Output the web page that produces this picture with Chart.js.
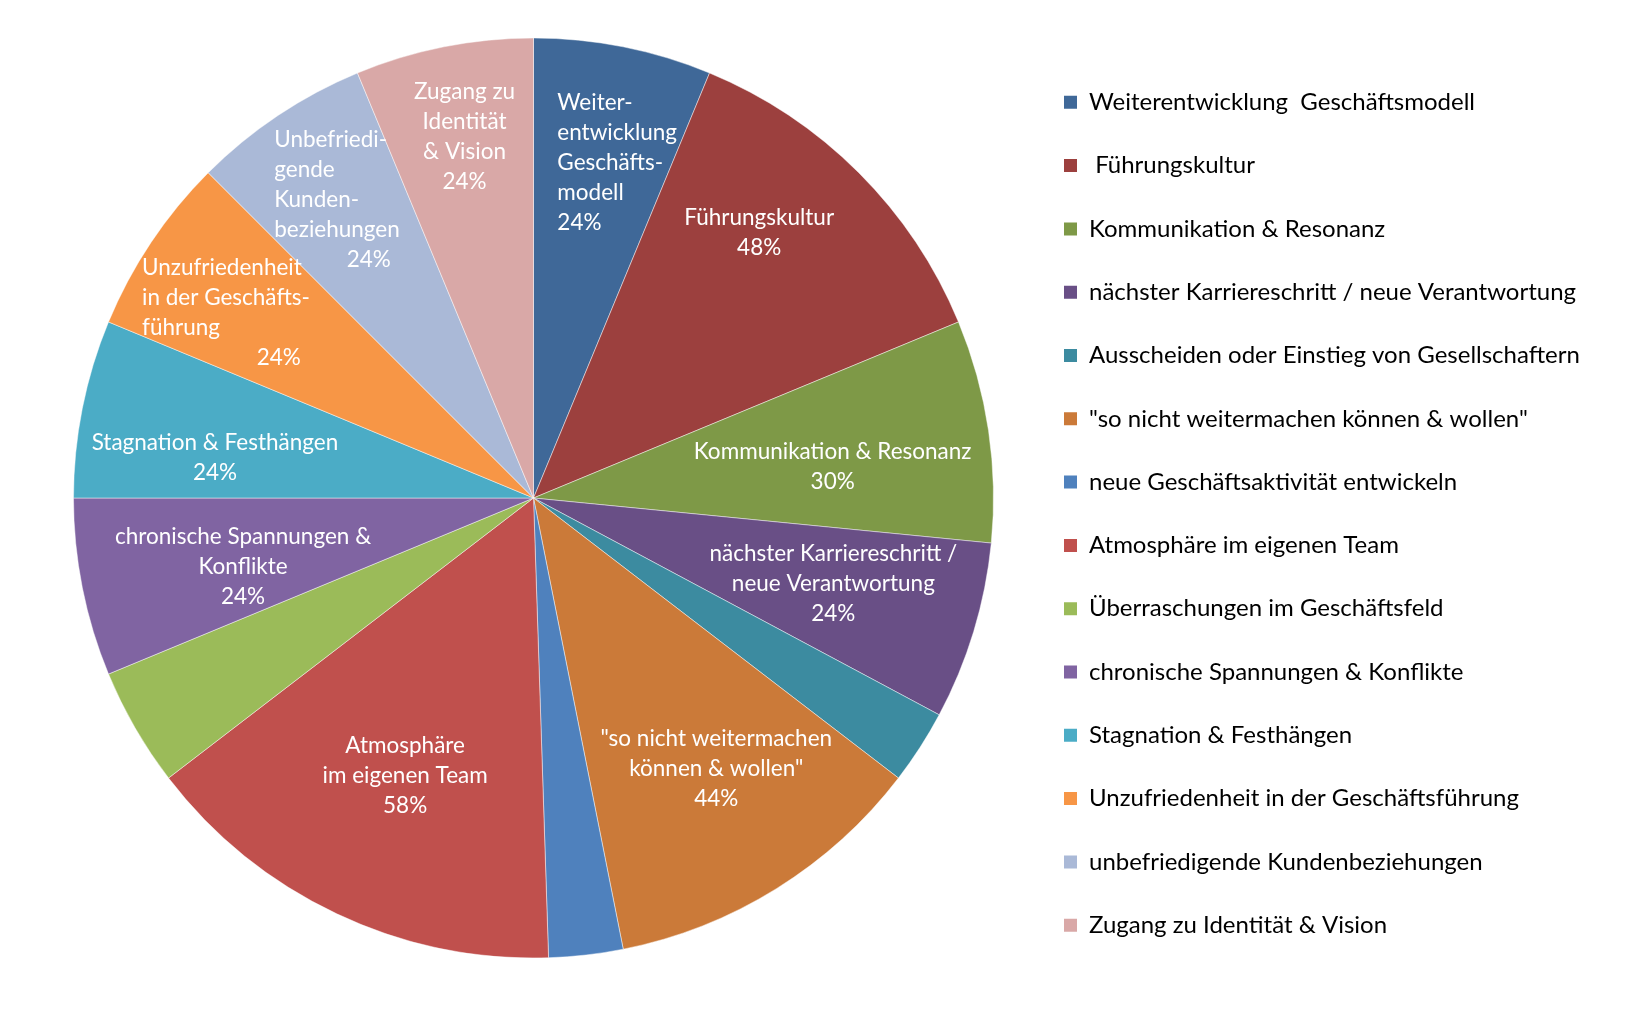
<!DOCTYPE html>
<html>
<head>
<meta charset="utf-8">
<script src="https://cdn.jsdelivr.net/npm/chart.js@4/dist/chart.umd.min.js"></script>
<style>
  html, body { margin: 0; padding: 0; background: #fff; }
  #wrap { width: 1636px; height: 1016px; }
</style>
</head>
<body>
<div id="wrap"><canvas id="pie" width="1636" height="1016"></canvas></div>
<script>
// categories as in the legend
const categories = [
    'Weiterentwicklung  Geschäftsmodell',
    ' Führungskultur',
    'Kommunikation & Resonanz',
    'nächster Karriereschritt / neue Verantwortung',
    'Ausscheiden oder Einstieg von Gesellschaftern',
    '"so nicht weitermachen können & wollen"',
    'neue Geschäftsaktivität entwickeln',
    'Atmosphäre im eigenen Team',
    'Überraschungen im Geschäftsfeld',
    'chronische Spannungen & Konflikte',
    'Stagnation & Festhängen',
    'Unzufriedenheit in der Geschäftsführung',
    'unbefriedigende Kundenbeziehungen',
    'Zugang zu Identität & Vision'
];

// share of answers in %
const values = [24, 48, 30, 24, 10, 44, 10, 58, 16, 24, 24, 24, 24, 24];

// text written inside the slices (null = no label)
const sliceText = [
    ['Weiter-', 'entwicklung', 'Geschäfts-', 'modell'],
    ['Führungskultur'],
    ['Kommunikation & Resonanz'],
    ['nächster Karriereschritt /', 'neue Verantwortung'],
    null,
    ['"so nicht weitermachen', 'können & wollen"'],
    null,
    ['Atmosphäre', 'im eigenen Team'],
    null,
    ['chronische Spannungen &', 'Konflikte'],
    ['Stagnation & Festhängen'],
    ['Unzufriedenheit', 'in der Geschäfts-', 'führung'],
    ['Unbefriedi-', 'gende', 'Kunden-', 'beziehungen'],
    ['Zugang zu', 'Identität', '& Vision']
];

const colors = [
    '#3F6898', '#9C403E', '#7E9947', '#694F86', '#3C8BA0', '#CB7A39', '#4F81BD',
    '#C0504D', '#9BBB59', '#8064A2', '#4BACC6', '#F79646', '#AAB9D7', '#D9A8A7'
];

// where the slice text sits: angle nudge (deg) from slice middle, radius fraction, alignment
const labelPlace = [
    { nudge: 2.75, r: 0.752, align: 'left' },
    { nudge: -4.6, r: 0.757 },
    { nudge: 2.4, r: 0.654 },
    { nudge: -0.9, r: 0.678 },
    null,
    { nudge: -2.1, r: 0.711 },
    null,
    { nudge: -0.5, r: 0.665 },
    null,
    { nudge: -2.15, r: 0.649 },
    { nudge: -4.05, r: 0.698 },
    { nudge: -2.75, r: 0.78, align: 'left', pct: 'right' },
    { nudge: 0.35, r: 0.776, align: 'left', pct: 'right' },
    { nudge: 0.45, r: 0.8 }
];

const FONT = 'Lato, "Open Sans", sans-serif';
const LEGEND_WIDTH = 611.3;

const sliceLabels = {
    id: 'sliceLabels',
    afterDatasetsDraw(chart) {
        const ctx = chart.ctx;
        const meta = chart.getDatasetMeta(0);
        ctx.save();
        ctx.font = '22.5px ' + FONT;
        ctx.fillStyle = '#ffffff';
        ctx.textBaseline = 'middle';
        const lh = 30;
        meta.data.forEach((arc, i) => {
            const lines = sliceText[i];
            const p = labelPlace[i];
            if (!lines || !p) return;
            const mid = (arc.startAngle + arc.endAngle) / 2 + p.nudge * Math.PI / 180;
            const cx = arc.x + Math.cos(mid) * arc.outerRadius * p.r;
            const cy = arc.y + Math.sin(mid) * arc.outerRadius * p.r;
            const all = lines.concat(values[i] + '%');
            const w = Math.max(...all.map(t => ctx.measureText(t).width));
            const y0 = cy - (all.length - 1) * lh / 2;
            all.forEach((t, j) => {
                let align = p.align || 'center';
                if (j === lines.length && p.pct) align = p.pct;
                let x = cx;
                if (align === 'left') x = cx - w / 2;
                if (align === 'right') x = cx + w / 2 - 9;
                ctx.textAlign = align;
                ctx.fillText(t, x, y0 + j * lh);
            });
        });
        ctx.restore();
    }
};

// fixed legend width so the pie keeps its place
const legendWidth = {
    id: 'legendWidth',
    beforeInit(chart) {
        const origFit = chart.legend.fit;
        chart.legend.fit = function() {
            origFit.bind(chart.legend)();
            this.width = LEGEND_WIDTH;
        };
    }
};

new Chart(document.getElementById('pie'), {
    type: 'pie',
    data: {
        labels: categories,
        datasets: [{
            data: values,
            backgroundColor: colors,
            borderColor: 'rgba(255,255,255,0.45)',
            borderWidth: 1,
            radius: 460
        }]
    },
    options: {
        responsive: false,
        animation: false,
        layout: { padding: { left: 42.3, right: 0, top: 0, bottom: 20 } },
        plugins: {
            tooltip: { enabled: false },
            legend: {
                position: 'right',
                title: { display: true, text: '', padding: 0, font: { size: 26.25, lineHeight: 1.2 } },
                labels: {
                    boxWidth: 13,
                    boxHeight: 13,
                    padding: 39.3,
                    color: '#000',
                    font: { family: FONT, size: 24 },
                    generateLabels: chart => Chart.overrides.pie.plugins.legend.labels.generateLabels(chart)
                        .map(l => ({ ...l, lineWidth: 0, strokeStyle: l.fillStyle }))
                }
            }
        }
    },
    plugins: [legendWidth, sliceLabels]
});
</script>
</body>
</html>
